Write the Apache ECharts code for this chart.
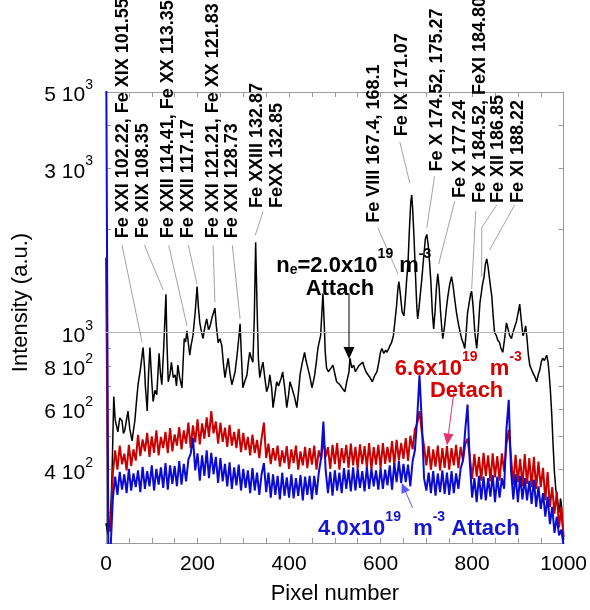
<!DOCTYPE html>
<html><head><meta charset="utf-8">
<script src="https://cdn.jsdelivr.net/npm/echarts@6/dist/echarts.min.js"></script>
<style>html,body{margin:0;padding:0;background:#fff}#c{width:590px;height:610px}</style>
</head><body><div id="c"></div>
<script>
// ---------- DATA ----------
const blackPixel = [0,4,8,11,13,17,20,22,26,30,35,38,41,45,48,52,57,60,63,67,70,75,81,84,86,90,93,96,100,103,107,111,116,119,122,126,131,133,136,140,143,147,151,154,157,161,166,169,171,174,177,180,183,186,190,195,199,202,205,209,212,216,220,224,227,232,238,241,245,249,253,257,260,264,267,271,275,279,282,286,290,293,296,299,303,308,311,314,318,321,324,327,330,333,336,340,343,347,351,355,358,362,365,369,373,377,380,383,386,390,395,399,402,405,408,412,417,421,424,429,434,437,441,446,450,453,456,460,463,466,469,471,474,477,479,482,486,489,492,496,500,504,507,511,516,522,526,531,533,537,541,545,548,552,556,561,565,568,572,577,582,587,592,596,600,603,607,611,614,618,621,624,628,631,635,638,640,643,647,651,654,657,660,663,666,668,670,673,676,679,681,684,687,690,694,698,701,704,707,710,713,716,719,722,725,728,731,734,736,740,743,747,751,755,758,762,766,770,774,777,781,784,787,790,794,797,799,802,806,810,813,817,820,823,826,829,832,835,839,843,846,849,853,856,860,863,867,871,875,878,882,886,889,893,897,901,904,907,911,914,917,920,923,926,930,935,938,941,945,948,951,954,958,963,966,968,971,974,977,980,983,986,989,991,993,995,997,1000];
const blackIntensity = [280,260,275,320,380,652,560,543,515,565,554,510,520,560,592,525,485,520,554,640,706,780,906,800,700,592,760,906,720,631,680,661,871,760,706,900,1292,950,720,760,820,740,754,700,805,740,692,850,962,940,1013,930,860,920,980,1150,1362,1180,1068,1000,962,1040,1096,1020,1040,1110,1178,1050,936,960,918,800,740,800,843,760,706,740,769,850,960,1061,850,692,720,754,820,877,840,821,1100,1830,1200,840,740,790,821,740,674,700,754,690,606,660,720,700,706,740,769,700,606,660,720,700,692,650,606,680,754,820,877,830,790,740,692,720,754,830,900,940,980,1100,1300,1050,880,789,770,769,790,805,760,720,715,706,690,674,720,769,843,790,805,770,779,800,790,821,790,770,764,740,720,750,769,820,880,900,870,890,877,900,920,936,980,1068,1200,1350,1407,1300,1150,1118,1250,1426,1600,2000,2400,2508,2300,1900,1500,1200,1096,1180,1300,1426,1650,1880,1929,1800,1600,1400,1150,1026,1150,1350,1483,1350,1150,1020,961,1050,1150,1275,1380,1454,1380,1250,1140,1060,1000,961,930,900,1000,1140,1230,1300,1318,1200,1000,900,1000,1218,1300,1389,1450,1580,1637,1550,1400,1275,1120,1000,980,950,936,900,877,960,1068,1030,980,961,1000,1000,1080,1150,1210,1100,980,1000,1047,960,860,805,780,754,740,720,760,780,820,843,830,860,820,770,680,580,470,391,350,330,310,301,330,320,280,250];

// red and blue spectra, one reading every 5 pixels from pixel 0 to 1000
const sampleStep = 5;
const redIntensity = [
1650,270,265,390,455,400,470,415,445,398,
472,410,458,425,505,438,490,452,512,436,
500,448,520,440,498,462,515,447,528,452,
506,470,532,458,520,476,548,462,538,480,
560,474,545,492,568,498,592,510,552,476,
548,482,530,466,540,470,515,462,526,450,
512,456,498,440,506,447,488,432,495,548,
432,476,415,462,425,470,408,455,418,468,
402,458,418,470,400,452,412,466,404,462,
414,470,400,455,428,492,436,465,402,472,
415,478,400,462,418,472,404,476,412,466,
402,474,415,468,406,478,400,465,414,472,
404,478,416,466,420,484,412,488,426,478,
430,494,424,502,458,525,545,592,515,468,
412,468,400,458,408,470,398,462,405,468,
400,462,412,472,404,466,425,475,492,436,
376,444,382,436,372,448,384,440,370,446,
380,438,372,446,395,474,522,436,362,442,
368,430,358,444,364,432,356,436,352,422,
356,405,326,394,312,356,298,345,272,312,
255];
const blueIntensity = [
9000,240,235,330,382,338,394,350,388,342,
402,348,390,356,398,344,408,352,396,358,
412,348,402,362,406,354,418,350,412,364,
410,358,424,362,416,370,428,445,495,398,
446,372,440,384,455,378,448,388,436,366,
432,370,416,358,420,352,406,360,414,348,
402,354,398,342,404,348,392,338,388,418,
344,392,332,388,338,384,328,392,336,380,
332,388,330,378,336,386,326,382,338,384,
328,384,338,392,432,552,398,342,394,336,
398,348,392,342,404,352,400,346,406,348,
402,354,396,346,408,352,402,358,398,350,
404,352,400,360,412,350,418,368,424,366,
416,368,414,358,424,455,565,752,555,378,
348,392,342,396,336,390,344,398,340,392,
338,396,342,390,352,404,425,522,618,418,
332,378,322,384,328,382,326,378,334,386,
322,382,332,378,352,524,638,398,328,388,
322,384,328,378,326,372,318,374,312,358,
308,342,292,334,278,312,262,292,258,268,
240];

const xLabelValues = [0, 200, 400, 600, 800, 1000];
const yTickValues = [300, 400, 500, 600, 700, 800, 900, 1000, 2000, 3000, 4000, 5000];
const yLabelValues = [400, 600, 800, 1000, 3000, 5000];
const yLabelMantissa = ['4 ', '6 ', '8 ', '', '3 ', '5 '];
const yLabelExponent = ['2', '2', '2', '3', '3', '3'];
const yMin = 245, yMax = 5000;

// line identifications: text, label anchor [pixel, intensity], leader line points [pixel, intensity]
const lineLabels = [
  {t: 'Fe XXI 102.22, Fe XIX 101.55', a: [37, 1879], l: [[35, 1795], [79, 936]]},
  {t: 'Fe XIX 108.35', a: [81, 1879], l: [[84, 1795], [125, 1330]]},
  {t: 'Fe XXII 114.41, Fe XX 113.35', a: [135, 1879], l: [[137, 1795], [177, 1047]]},
  {t: 'Fe XXII 117.17', a: [179, 1879], l: [[180, 1795], [199, 1380]]},
  {t: 'Fe XXI 121.21, Fe XX 121.83', a: [234, 1879], l: [[234, 1795], [238, 1226]]},
  {t: 'Fe XXI 128.73', a: [275, 1879], l: [[276, 1795], [293, 1096]]},
  {t: 'Fe XXIII 132.87', a: [330, 2302], l: [[343, 2244], [326, 1917]]},
  {t: 'FeXX 132.85', a: [373, 2302], l: null},
  {t: 'Fe VIII 167.4, 168.1', a: [585, 2087], l: [[594, 2018], [638, 1483]]},
  {t: 'Fe IX 171.07', a: [646, 3720], l: [[642, 3577], [664, 2715]]},
  {t: 'Fe X 174.52, 175.27', a: [723, 2937], l: [[718, 2842], [701, 2018]]},
  {t: 'Fe X 177.24', a: [773, 2460], l: [[762, 2412], [727, 1584]]},
  {t: 'Fe X 184.52, FeXI 184.80', a: [817, 2380], l: [[808, 2258], [799, 1335]]},
  {t: 'Fe XII 186.85', a: [856, 2380], l: [[854, 2350], [821, 2018], [821, 1454]]},
  {t: 'Fe XI 188.22', a: [900, 2380], l: [[893, 2350], [838, 1737]]}
];

// ---------- CHART ----------
const FONT = '"Liberation Sans", Arial, Helvetica, sans-serif';
const chart = echarts.init(document.getElementById('c'));

const toPairs = (vals) => vals.map((v, i) => [i * sampleStep, v]);
const blackData = blackPixel.map((p, i) => [p, blackIntensity[i]]);

const frameColor = '#9a9a9a';
const yLabelFmt = function (val) {
  const raw = Math.pow(10, val);
  for (let i = 0; i < yLabelValues.length; i++) {
    if (Math.abs(raw - yLabelValues[i]) < 1) {
      return (yLabelMantissa[i] ? '{a|' + yLabelMantissa[i] + '10}' : '{a|10}') + '{s|' + yLabelExponent[i] + '}';
    }
  }
  return '';
};
const yRich = {
  a: {fontSize: 21, fontFamily: FONT, color: '#000', lineHeight: 28, verticalAlign: 'bottom'},
  s: {fontSize: 14, fontFamily: FONT, color: '#000', lineHeight: 14, verticalAlign: 'top'}
};

const decoY = (pos) => ({
  type: 'value', position: pos, gridIndex: 0,
  min: Math.log10(yMin), max: Math.log10(yMax),
  axisLine: {show: true, onZero: false, lineStyle: {color: frameColor, width: 1}},
  axisTick: {show: true, inside: true, length: 5, lineStyle: {color: frameColor},
             customValues: yTickValues.map(v => Math.log10(v))},
  axisLabel: pos === 'left' ? {show: true, margin: 13, formatter: yLabelFmt, rich: yRich,
             customValues: yLabelValues.map(v => Math.log10(v))} : {show: false},
  splitLine: {show: false},
  name: pos === 'left' ? 'Intensity (a.u.)' : '',
  nameLocation: 'middle', nameGap: 74, nameRotate: 90,
  nameTextStyle: {fontSize: 22, fontFamily: FONT, color: '#000', padding: [0, 0, 0, 30]}
});

const option = {
  animation: false,
  backgroundColor: '#fff',
  grid: {left: 106, top: 92, width: 458, height: 459, containLabel: false},
  xAxis: [
    {type: 'value', position: 'bottom', min: 0, max: 1000, interval: 50,
     axisLine: {show: true, onZero: false, lineStyle: {color: frameColor}},
     axisTick: {show: true, inside: true, length: 5, lineStyle: {color: frameColor}},
     axisLabel: {show: true, margin: 11, fontSize: 21, fontFamily: FONT, color: '#000',
                 customValues: xLabelValues, formatter: (v) => String(Math.round(v))},
     splitLine: {show: false},
     name: 'Pixel number', nameLocation: 'middle', nameGap: 40,
     nameTextStyle: {fontSize: 22, fontFamily: FONT, color: '#000'}},
    {type: 'value', position: 'top', min: 0, max: 1000, interval: 50,
     axisLine: {show: true, onZero: false, lineStyle: {color: frameColor}},
     axisTick: {show: true, inside: true, length: 5, lineStyle: {color: frameColor}},
     axisLabel: {show: false}, splitLine: {show: false}}
  ],
  yAxis: [
    {type: 'log', logBase: 10, min: yMin, max: yMax, show: false, splitLine: {show: false}},
    decoY('left'),
    decoY('right')
  ],
  series: [
    {name: 'ne=2.0e19 Attach', type: 'line', data: blackData, xAxisIndex: 0, yAxisIndex: 0,
     showSymbol: false, symbol: 'none', clip: true,
     lineStyle: {color: '#000', width: 1.5}, z: 2,
     markLine: {silent: true, symbol: 'none', label: {show: false},
       lineStyle: {color: '#b5b5b5', width: 1, type: 'solid'},
       data: [{yAxis: 1000}]}},
    {name: 'ne=6.6e19 Detach', type: 'line', data: toPairs(redIntensity), xAxisIndex: 0, yAxisIndex: 0,
     showSymbol: false, symbol: 'none', clip: true,
     lineStyle: {color: '#c80000', width: 2}, z: 3},
    {name: 'ne=4.0e19 Attach', type: 'line', data: toPairs(blueIntensity), xAxisIndex: 0, yAxisIndex: 0,
     showSymbol: false, symbol: 'none', clip: true,
     lineStyle: {color: '#0a0ad2', width: 2}, z: 4}
  ]
};
chart.setOption(option);

// ---------- ANNOTATIONS (placed through the chart's own data->pixel mapping) ----------
const px = (d) => chart.convertToPixel({xAxisIndex: 0, yAxisIndex: 0}, d);
const g = [];
lineLabels.forEach(function (lab) {
  const a = px(lab.a);
  g.push({type: 'text', x: a[0], y: a[1], rotation: Math.PI / 2, z: 100,
    style: {text: lab.t, fontSize: 18, fontWeight: 'bold', fontFamily: FONT, fill: '#000',
            align: 'left', verticalAlign: 'middle'}});
  if (lab.l) {
    g.push({type: 'polyline', z: 99, shape: {points: lab.l.map(px)},
      style: {stroke: '#8c8c8c', lineWidth: 0.8, fill: null}});
  }
});

function arrow(from, to, color, lw, headLen, headW) {
  const p1 = px(from), p2 = px(to);
  const dx = p2[0] - p1[0], dy = p2[1] - p1[1];
  const L = Math.sqrt(dx * dx + dy * dy);
  const ux = dx / L, uy = dy / L;
  const bx = p2[0] - ux * headLen, by = p2[1] - uy * headLen;
  g.push({type: 'line', z: 101, shape: {x1: p1[0], y1: p1[1], x2: bx, y2: by},
    style: {stroke: color, lineWidth: lw}});
  g.push({type: 'polygon', z: 101, shape: {points: [[p2[0], p2[1]],
    [bx - uy * headW / 2, by + ux * headW / 2], [bx + uy * headW / 2, by - ux * headW / 2]]},
    style: {fill: color}});
}
arrow([531, 1300], [531, 838], '#000', 1, 12, 11);
arrow([760, 670], [745, 470], '#e8306a', 1, 12, 10);
arrow([670, 310], [646, 366], '#5a5af0', 1, 10, 9);

function richText(anchor, text, color, align) {
  const a = px(anchor);
  g.push({type: 'text', x: a[0], y: a[1], z: 102,
    style: {text: text, fill: color, align: align, verticalAlign: 'middle',
      fontSize: 22, fontWeight: 'bold', fontFamily: FONT,
      rich: {
        b: {fontSize: 22, fontWeight: 'bold', fontFamily: FONT, fill: color, color: color, lineHeight: 30, verticalAlign: 'bottom'},
        sup: {fontSize: 14, fontWeight: 'bold', fontFamily: FONT, fill: color, color: color, lineHeight: 14, verticalAlign: 'top'},
        sub: {fontSize: 14, fontWeight: 'bold', fontFamily: FONT, fill: color, color: color, lineHeight: 14, verticalAlign: 'bottom'}
      }}});
}
richText([372, 1605], '{b|n}{sub|e}{b|=2.0x10}{sup|19}{b| m}{sup|-3}', '#000', 'left');
richText([511, 1380], '{b|Attach}', '#000', 'center');
richText([631, 805], '{b|6.6x10}{sup|19}{b|  m}{sup|-3}', '#d80000', 'left');
richText([788, 697], '{b|Detach}', '#d80000', 'center');
richText([904, 277], '{b|4.0x10}{sup|19}{b|  m}{sup|-3}{b| Attach}', '#1414d2', 'right');

chart.setOption({graphic: {elements: g}});
</script>
</body></html>
